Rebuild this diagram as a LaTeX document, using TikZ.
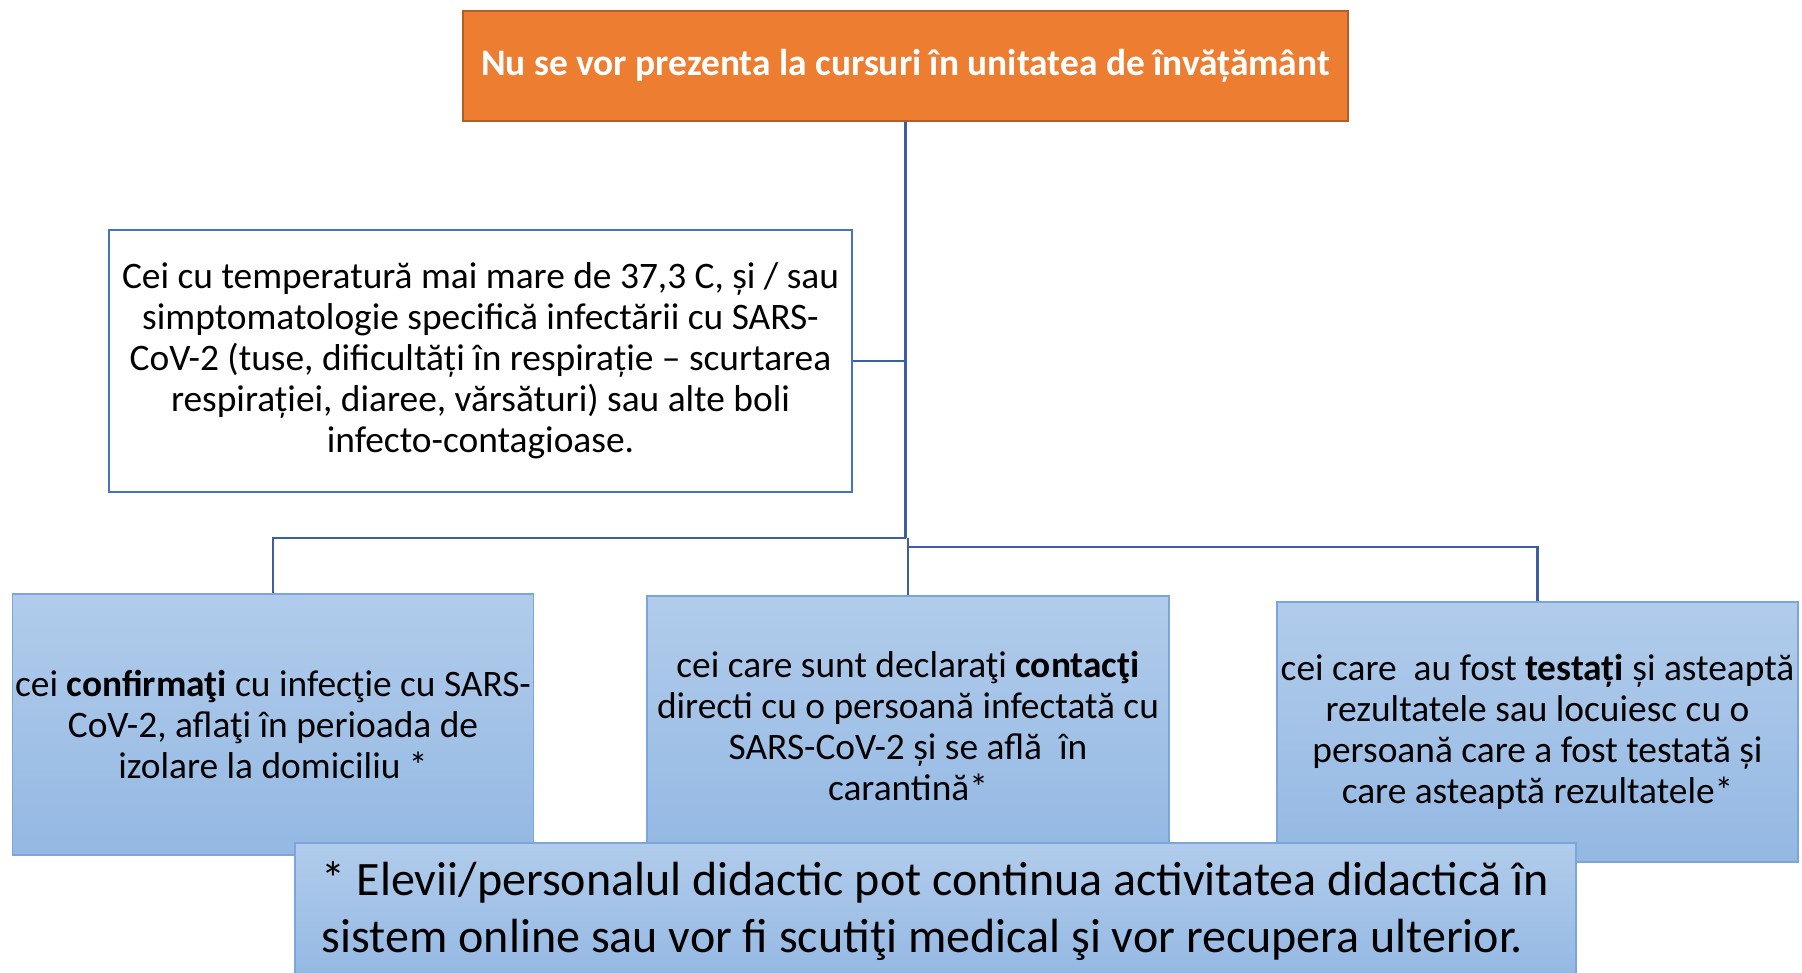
\documentclass[tikz,border=0pt]{standalone}
\usepackage{fontspec}
\setmainfont{Carlito}
\definecolor{orng}{RGB}{237,125,49}
\definecolor{orngb}{RGB}{178,94,38}
\definecolor{conncol}{RGB}{62,94,162}
\definecolor{lbord}{RGB}{68,114,196}
\definecolor{btop}{RGB}{177,204,235}
\definecolor{bbot}{RGB}{148,184,227}
\definecolor{bbord}{RGB}{122,166,220}
\tikzset{
  conn/.style={draw=conncol, line width=2.6pt},
  topbox/.style={draw=orngb, line width=2.5pt, fill=orng, inner sep=0pt, align=center, text=white, font=\fontsize{37.4}{41}\selectfont\bfseries},
  whitebox/.style={draw=lbord, line width=2.2pt, fill=white, inner sep=0pt, align=center, font=\fontsize{37.4}{41}\selectfont},
  bluebox/.style={draw=bbord, line width=1.6pt, top color=btop, bottom color=bbot, inner sep=0pt, align=center, font=\fontsize{37.4}{41}\selectfont},
  footbox/.style={draw=bbord, line width=1.6pt, top color=btop, bottom color=bbot, inner sep=0pt, align=left, font=\fontsize{48}{57}\selectfont}
}
\begin{document}
\begin{tikzpicture}[x=1pt,y=-1pt]
\useasboundingbox (0,0) rectangle (1802,973);
\node[topbox, minimum width=885pt, minimum height=110pt] (top) at (905.5,66) {Nu se vor prezenta la cursuri în unitatea de învățământ};
\node[whitebox, minimum width=743pt, minimum height=262pt] (left) at (480.5,361) {Cei cu temperatură mai mare de 37,3 C, și / sau\\simptomatologie specifică infectării cu SARS-\\CoV-2 (tuse, dificultăți în respirație – scurtarea\\respirației, diaree, vărsături) sau alte boli\\infecto-contagioase.};
\coordinate (j1) at (905.5,538);
\coordinate (j2) at (908,547);
\node[bluebox, minimum width=521pt, minimum height=261pt] (b1) at (273,724.5) {cei \textbf{confirmaţi} cu infecţie cu SARS-\\CoV-2, aflaţi în perioada de\\izolare la domiciliu *};
\node[bluebox, minimum width=522pt, minimum height=260pt] (b2) at (908,726) {cei care sunt declaraţi \textbf{contacţi}\\directi cu o persoană infectată cu\\SARS-CoV-2 și se află\ \ în\\carantină*};
\node[bluebox, minimum width=521pt, minimum height=260pt] (b3) at (1537.5,732) {cei care\ \ au fost \textbf{testați} și asteaptă\\rezultatele sau locuiesc cu o\\persoană care a fost testată și\\care asteaptă rezultatele*};
\draw[conn] (top.south) -- (j1);
\draw[conn] (left.east) -- (left.east -| top.south);
\draw[conn] (j1) -| (b1.north);
\draw[conn] (b2.north) -- (b2.north |- j1);
\draw[conn] (j2) -| (b3.north);
\node[footbox, minimum width=1281pt, minimum height=136pt] (foot) at (935.5,911) {* Elevii/personalul didactic pot continua activitatea didactică în\\sistem online sau vor fi scutiţi medical şi vor recupera ulterior.};
\end{tikzpicture}
\end{document}
